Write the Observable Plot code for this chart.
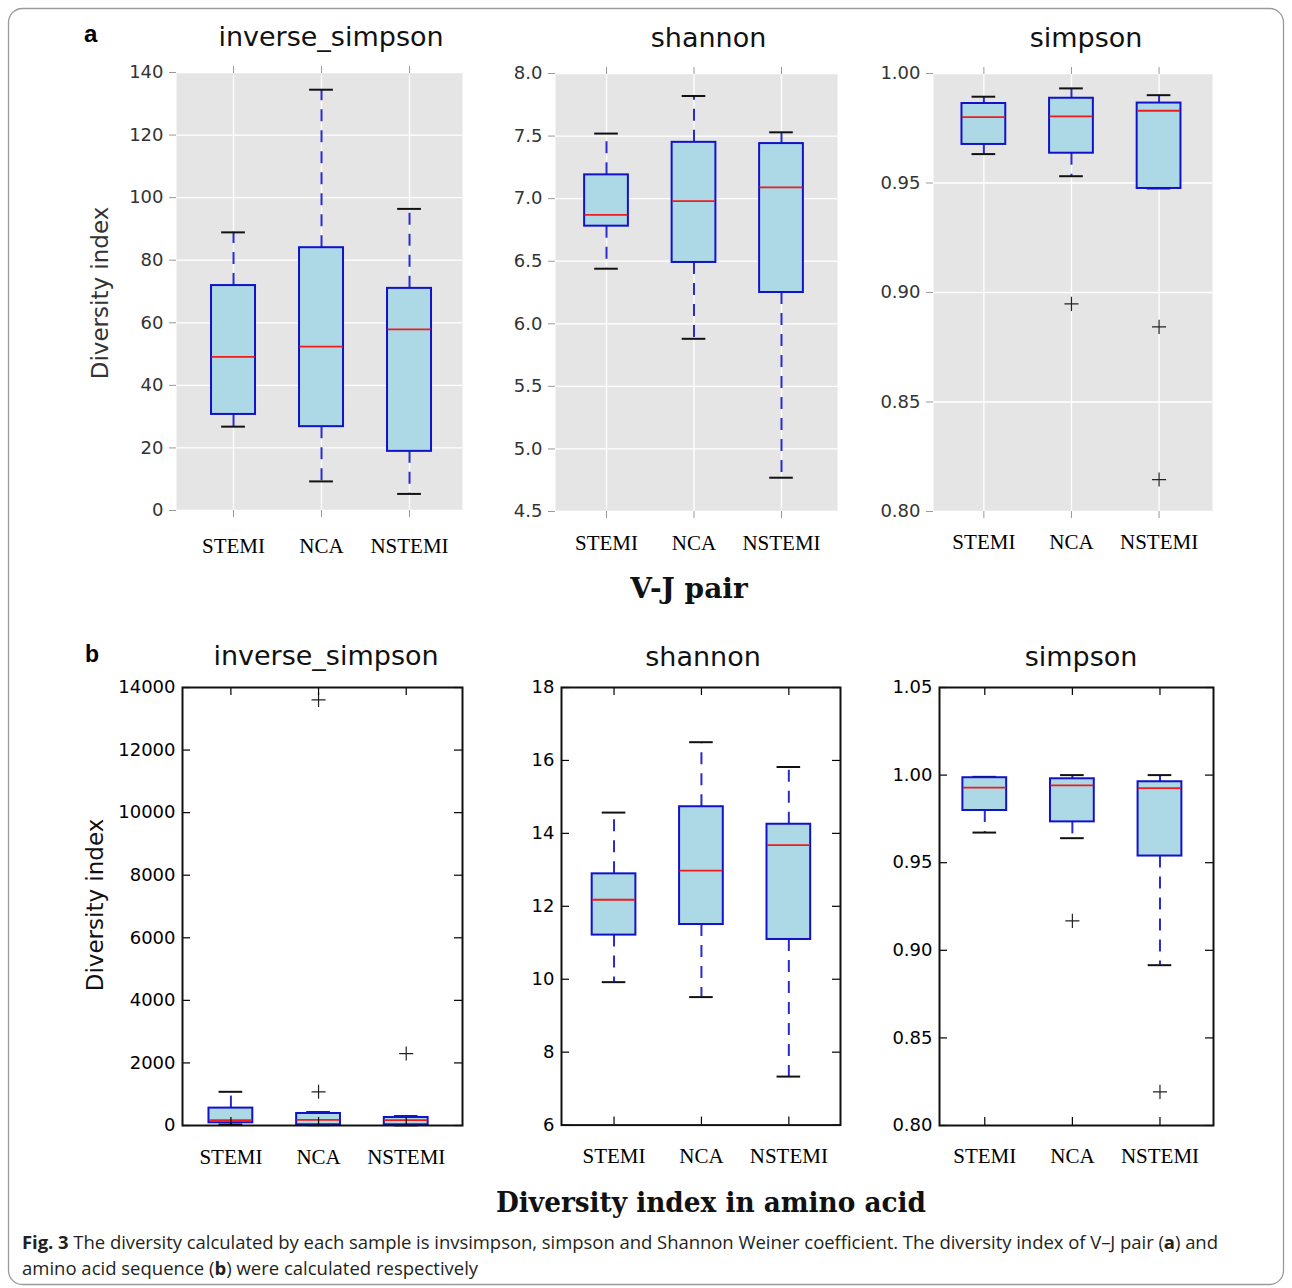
<!DOCTYPE html>
<html><head><meta charset="utf-8">
<script src="https://cdn.jsdelivr.net/npm/d3@7"></script>
<script src="https://cdn.jsdelivr.net/npm/@observablehq/plot@0.6"></script>
<style>
body{margin:0;background:#fff;}
#fig{position:relative;width:1292px;height:1288px;overflow:hidden;background:#fff;}
#fig svg{position:absolute;}
</style></head><body><div id="fig"></div><script>
// ---------- DATA ----------
const groups = ["STEMI", "NCA", "NSTEMI"];
// each entry per group: [lower whisker, Q1, median, Q3, upper whisker]
const vjInverseSimpson = [[26.8, 30.7, 49.1, 71.9, 88.9], [9.3, 26.8, 52.4, 84.0, 134.5], [5.3, 18.9, 57.9, 71.0, 96.4]];
const vjInverseSimpsonOutliers = [[], [], []];
const vjShannon = [[6.44, 6.78, 6.87, 7.19, 7.52], [5.88, 6.49, 6.98, 7.45, 7.82], [4.77, 6.25, 7.09, 7.44, 7.53]];
const vjShannonOutliers = [[], [], []];
const vjSimpson = [[0.9632, 0.9676, 0.9801, 0.9863, 0.9894], [0.9531, 0.9636, 0.9804, 0.9887, 0.9932], [0.9475, 0.9475, 0.9830, 0.9865, 0.9901]];
const vjSimpsonOutliers = [[], [0.8948], [0.8843, 0.8146]];
const aaInverseSimpson = [[32, 86, 172, 556, 1077], [10, 22, 182, 384, 428], [5, 22, 172, 256, 300]];
const aaInverseSimpsonOutliers = [[], [1077, 13605], [2300]];
const aaShannon = [[9.92, 11.21, 12.18, 12.89, 14.57], [9.51, 11.50, 12.98, 14.73, 16.50], [7.33, 11.09, 13.68, 14.25, 15.82]];
const aaShannonOutliers = [[], [], []];
const aaSimpson = [[0.9672, 0.9798, 0.9929, 0.9985, 0.9990], [0.9640, 0.9733, 0.9941, 0.9979, 1.0000], [0.8915, 0.9538, 0.9926, 0.9962, 1.0000]];
const aaSimpsonOutliers = [[], [0.9168], [0.8192]];

const ticksVjInv = [0, 20, 40, 60, 80, 100, 120, 140];
const ticksVjShannon = [4.5, 5.0, 5.5, 6.0, 6.5, 7.0, 7.5, 8.0];
const ticksVjSimpson = [0.80, 0.85, 0.90, 0.95, 1.00];
const ticksAaInv = [0, 2000, 4000, 6000, 8000, 10000, 12000, 14000];
const ticksAaShannon = [6, 8, 10, 12, 14, 16, 18];
const ticksAaSimpson = [0.80, 0.85, 0.90, 0.95, 1.00, 1.05];

const panelTitles = ["inverse_simpson", "shannon", "simpson"];
const yLabel = "Diversity index";
const rowLabelA = "V-J pair";
const rowLabelB = "Diversity index in amino acid";

// ---------- STYLE / LAYOUT ----------
const BOX_STROKE = "#1212c8", WHISK = "#2b2bcc", FILL = "#add8e6", MED = "#f01c1c";
const fig = document.getElementById("fig");

const panels = [
  {stats: vjInverseSimpson, outliers: vjInverseSimpsonOutliers, ticks: ticksVjInv, fmt: d => String(d), area: [176, 72, 462, 510], xDomain: [0.352, 3.602], gg: true, gap: 42},
  {stats: vjShannon, outliers: vjShannonOutliers, ticks: ticksVjShannon, fmt: d3.format(".1f"), area: [555, 72.7, 837, 510.7], xDomain: [0.417, 3.64], gg: true, gap: 38.5},
  {stats: vjSimpson, outliers: vjSimpsonOutliers, ticks: ticksVjSimpson, fmt: d3.format(".2f"), area: [933, 72.7, 1212, 510.7], xDomain: [0.425, 3.61], gg: true, gap: 37.5},
  {stats: aaInverseSimpson, outliers: aaInverseSimpsonOutliers, ticks: ticksAaInv, fmt: d => String(d), area: [182, 686.7, 462, 1124.7], xDomain: [0.448, 3.642], gg: false, gap: 38},
  {stats: aaShannon, outliers: aaShannonOutliers, ticks: ticksAaShannon, fmt: d => String(d), area: [561, 686.7, 840, 1124.3], xDomain: [0.399, 3.591], gg: false, gap: 38},
  {stats: aaSimpson, outliers: aaSimpsonOutliers, ticks: ticksAaSimpson, fmt: d3.format(".2f"), area: [939, 686.7, 1213, 1124.7], xDomain: [0.483, 3.611], gg: false, gap: 37}
];

function drawPanel(cfg) {
  const [x0, y0, x1, y1] = cfg.area;
  const W = x1 - x0, H = y1 - y0;
  const mL = 100, mR = 30, mT = 20, mB = 60;
  const rows = groups.map((g, i) => {
    const [lo, q1, med, q3, hi] = cfg.stats[i];
    return {g, pos: i + 1, lo, q1, med, q3, hi};
  });
  const outs = groups.flatMap((g, i) => cfg.outliers[i].map(v => ({g, pos: i + 1, v})));
  const pos = groups.map((g, i) => i + 1);
  const labelFont = {fontFamily: "Liberation Serif", fontSize: 21, fill: "black", tickFormat: d => groups[d - 1], label: null};
  const marks = [];
  if (cfg.gg) {
    marks.push(Plot.frame({fill: "#e5e5e5"}));
    marks.push(Plot.gridY(cfg.ticks, {stroke: "#fff", strokeOpacity: 1, strokeWidth: 1.3}));
    marks.push(Plot.gridX(pos, {stroke: "#fff", strokeOpacity: 1, strokeWidth: 1.3}));
    marks.push(Plot.axisY(cfg.ticks, {tickSize: 7, tickPadding: 6, stroke: "#999", fill: "#333", tickFormat: cfg.fmt, fontSize: 18, label: null}));
    marks.push(Plot.axisX(pos, {anchor: "top", tickSize: 7, stroke: "#999", tickFormat: () => "", label: null}));
    marks.push(Plot.axisX(pos, {anchor: "bottom", tickSize: 7, tickPadding: cfg.gap - 7 - 0.71 * 21, stroke: "#999", ...labelFont}));
  } else {
    marks.push(Plot.axisY(cfg.ticks, {tickSize: 0, tickPadding: 7, fill: "black", tickFormat: cfg.fmt, fontSize: 18, label: null}));
    marks.push(Plot.axisX(pos, {anchor: "bottom", tickSize: 0, tickPadding: cfg.gap - 0.71 * 21, ...labelFont}));
  }
  // whiskers (dashed), drawn from the box toward the cap
  marks.push(Plot.ruleX(rows, {x: "pos", y1: "q3", y2: "hi", stroke: WHISK, strokeWidth: 2, strokeDasharray: "12,9"}));
  marks.push(Plot.ruleX(rows, {x: "pos", y1: "q1", y2: "lo", stroke: WHISK, strokeWidth: 2, strokeDasharray: "12,9"}));
  // caps
  marks.push(Plot.ruleY(rows, {y: "hi", x1: d => d.pos - 0.135, x2: d => d.pos + 0.135, stroke: "#111", strokeWidth: 2}));
  marks.push(Plot.ruleY(rows, {y: "lo", x1: d => d.pos - 0.135, x2: d => d.pos + 0.135, stroke: "#111", strokeWidth: 2}));
  // boxes
  marks.push(Plot.rect(rows, {x1: d => d.pos - 0.25, x2: d => d.pos + 0.25, y1: "q1", y2: "q3", fill: FILL, stroke: BOX_STROKE, strokeWidth: 2}));
  // medians
  marks.push(Plot.ruleY(rows, {y: "med", x1: d => d.pos - 0.245, x2: d => d.pos + 0.245, stroke: MED, strokeWidth: 1.8}));
  // outliers
  marks.push(Plot.dot(outs, {x: "pos", y: "v", symbol: "plus", r: 4.6, stroke: "#222", strokeWidth: 1.2}));
  if (!cfg.gg) {
    marks.push(Plot.tickY(cfg.ticks, {y: d => d, stroke: "black", strokeWidth: 1.2, insetRight: W - 8}));
    marks.push(Plot.tickY(cfg.ticks, {y: d => d, stroke: "black", strokeWidth: 1.2, insetLeft: W - 8}));
    marks.push(Plot.tickX(pos, {x: d => d, stroke: "black", strokeWidth: 1.2, insetTop: H - 8}));
    marks.push(Plot.tickX(pos, {x: d => d, stroke: "black", strokeWidth: 1.2, insetBottom: H - 8}));
    marks.push(Plot.frame({stroke: "#111", strokeWidth: 2}));
  }
  const svg = Plot.plot({
    width: W + mL + mR, height: H + mT + mB,
    marginLeft: mL, marginRight: mR, marginTop: mT, marginBottom: mB,
    x: {type: "linear", domain: cfg.xDomain},
    y: {type: "linear", domain: [cfg.ticks[0], cfg.ticks[cfg.ticks.length - 1]]},
    style: {fontFamily: "DejaVu Sans", fontSize: "18px", background: "transparent", overflow: "visible", color: "black"},
    marks
  });
  svg.style.left = (x0 - mL) + "px";
  svg.style.top = (y0 - mT) + "px";
  fig.appendChild(svg);
}
panels.forEach(drawPanel);

// ---------- ANNOTATIONS ----------
const ov = d3.select(fig).append("svg")
  .attr("width", 1292).attr("height", 1288)
  .style("left", "0px").style("top", "0px").style("pointer-events", "none");

ov.append("rect").attr("x", 8.5).attr("y", 8.5).attr("width", 1275).attr("height", 1276)
  .attr("rx", 14).attr("fill", "none").attr("stroke", "#9a9a9a").attr("stroke-width", 1.3);

const titleSpecs = [[331, 46], [708.5, 46.5], [1086, 46.5], [326, 665], [703, 666], [1081, 666]];
titleSpecs.forEach(([x, y], i) => {
  ov.append("text").attr("x", x).attr("y", y).attr("text-anchor", "middle")
    .attr("font-family", "DejaVu Sans").attr("font-size", 27).attr("fill", "#111")
    .text(panelTitles[i % 3]);
});
ov.append("text").attr("x", 84).attr("y", 42).attr("font-family", "Liberation Sans").attr("font-weight", "bold").attr("font-size", 24).text("a");
ov.append("text").attr("x", 85).attr("y", 662).attr("font-family", "Liberation Sans").attr("font-weight", "bold").attr("font-size", 23).text("b");

[[100, 293, "#333"], [95, 905, "#111"]].forEach(([x, y, c]) => {
  ov.append("text").attr("transform", `translate(${x},${y}) rotate(-90)`).attr("text-anchor", "middle")
    .attr("dy", "0.35em").attr("font-family", "DejaVu Sans").attr("font-size", 23).attr("fill", c).text(yLabel);
});

ov.append("text").attr("x", 689).attr("y", 598).attr("text-anchor", "middle")
  .attr("font-family", "DejaVu Serif").attr("font-weight", "bold").attr("font-size", 28).attr("fill", "#111").text(rowLabelA);
ov.append("text").attr("x", 711).attr("y", 1212).attr("text-anchor", "middle")
  .attr("font-family", "DejaVu Serif").attr("font-weight", "bold").attr("font-size", 27).attr("fill", "#111")
  .attr("textLength", 430).attr("lengthAdjust", "spacingAndGlyphs").text(rowLabelB);

const cap1 = ov.append("text").attr("x", 22).attr("y", 1249).attr("font-family", "Open Sans").attr("font-size", 18.5).attr("fill", "#231f20")
  .attr("textLength", 1196).attr("lengthAdjust", "spacing");
cap1.append("tspan").attr("font-weight", "bold").text("Fig. 3");
cap1.append("tspan").text("  The diversity calculated by each sample is invsimpson, simpson and Shannon Weiner coefficient. The diversity index of V–J pair (");
cap1.append("tspan").attr("font-weight", "bold").text("a");
cap1.append("tspan").text(") and");
const cap2 = ov.append("text").attr("x", 22).attr("y", 1275).attr("font-family", "Open Sans").attr("font-size", 18.5).attr("fill", "#231f20");
cap2.append("tspan").text("amino acid sequence (");
cap2.append("tspan").attr("font-weight", "bold").text("b");
cap2.append("tspan").text(") were calculated respectively");
</script></body></html>
